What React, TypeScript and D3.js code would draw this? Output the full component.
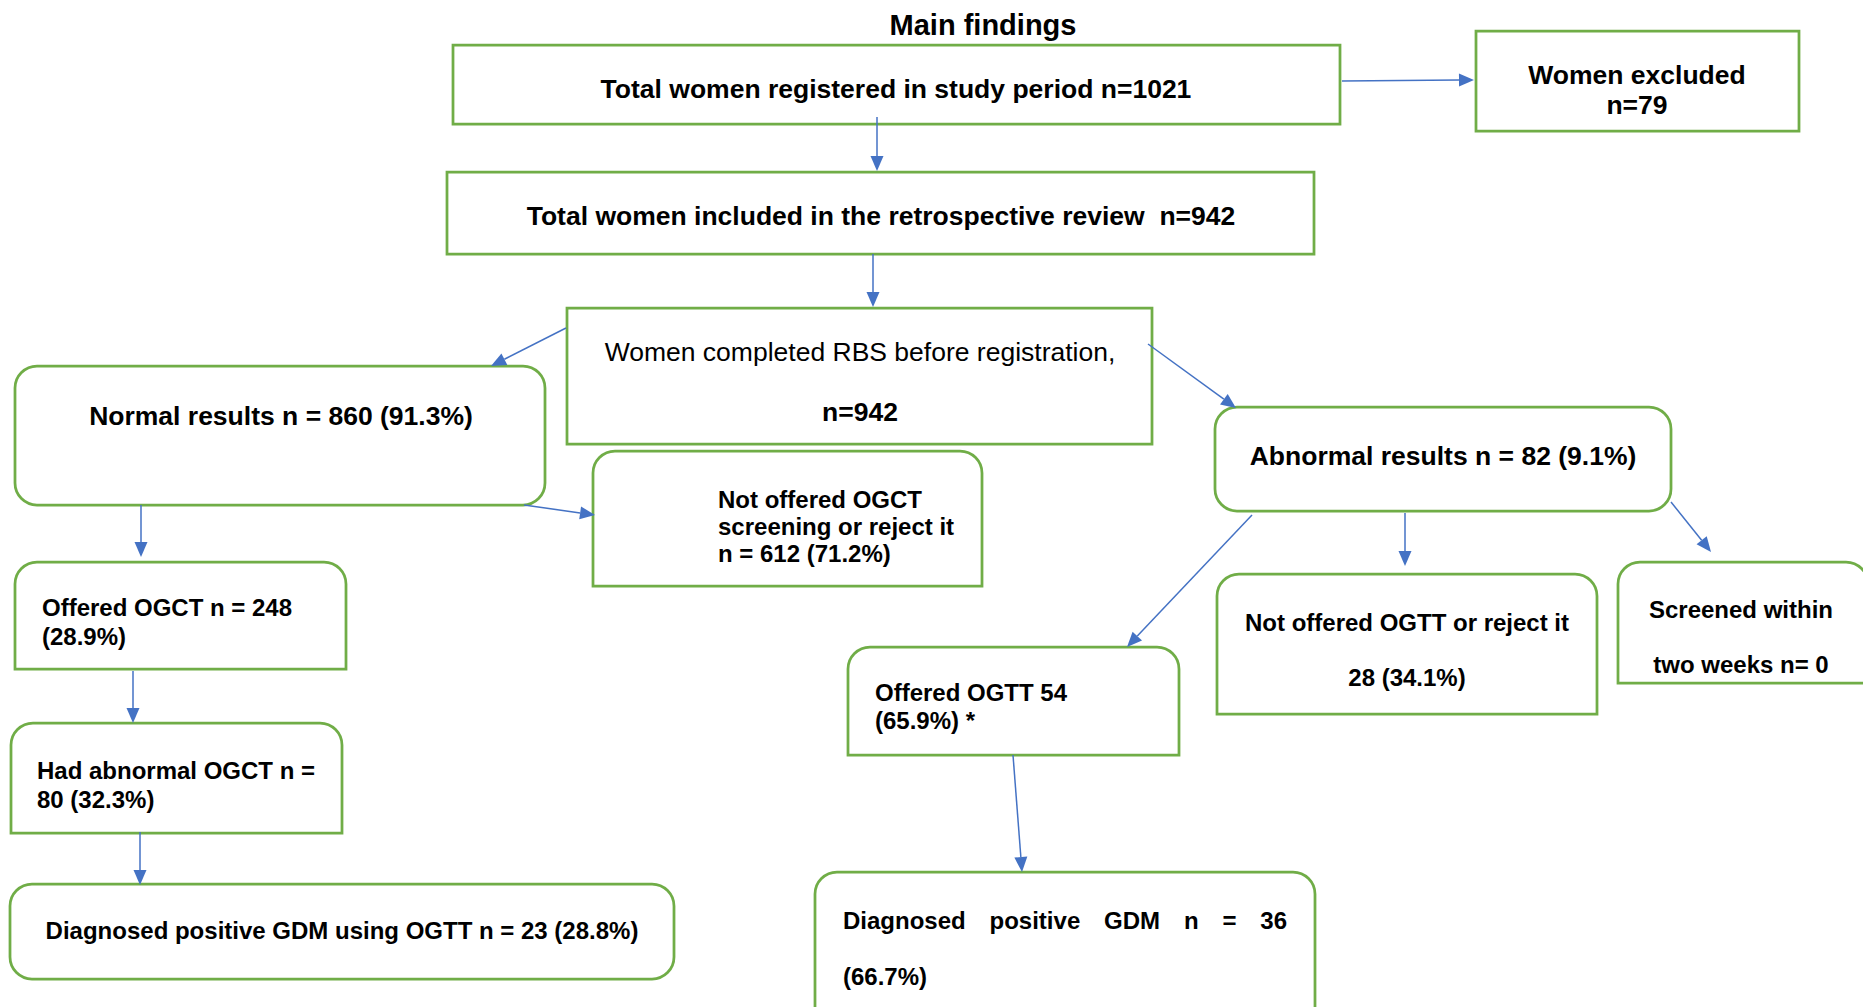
import React, { useEffect, useRef } from 'react';
import * as d3 from 'd3';

const W = 1863;
const H = 1007;
const GREEN = '#70AD47';
const BLUE = '#4472C4';
const FONT = "'Liberation Sans', Arial, Helvetica, sans-serif";

// ---- data ----
const chartTitle = 'Main findings';

const nodeIds = [
  'total', 'excluded', 'included', 'rbs', 'normal', 'notOgct', 'abnormal',
  'offeredOgct', 'hadAbnOgct', 'gdmOgct', 'offeredOgtt', 'notOgtt', 'screened', 'gdmPositive',
];

const nodeLines = [
  ['Total women registered in study period n=1021'],
  ['Women excluded', 'n=79'],
  ['Total women included in the retrospective review  n=942'],
  ['Women completed RBS before registration,', 'n=942'],
  ['Normal results n = 860 (91.3%)'],
  ['Not offered OGCT', 'screening or reject it', 'n = 612 (71.2%)'],
  ['Abnormal results n = 82 (9.1%)'],
  ['Offered OGCT n = 248', '(28.9%)'],
  ['Had abnormal OGCT n =', '80 (32.3%)'],
  ['Diagnosed positive GDM using OGTT n = 23 (28.8%)'],
  ['Offered OGTT 54', '(65.9%) *'],
  ['Not offered OGTT or reject it', '28 (34.1%)'],
  ['Screened within', 'two weeks n= 0'],
  ['Diagnosed positive GDM n = 36', '(66.7%)'],
];

const links = [
  ['total', 'excluded'],
  ['total', 'included'],
  ['included', 'rbs'],
  ['rbs', 'normal'],
  ['rbs', 'abnormal'],
  ['normal', 'notOgct'],
  ['normal', 'offeredOgct'],
  ['offeredOgct', 'hadAbnOgct'],
  ['hadAbnOgct', 'gdmOgct'],
  ['abnormal', 'offeredOgtt'],
  ['abnormal', 'notOgtt'],
  ['abnormal', 'screened'],
  ['offeredOgtt', 'gdmPositive'],
];

// ---- layout (positions / sizes / styles) ----
// shape: rect | round (all corners) | top (top corners only)
const boxLayout = {
  total: { x: 453, y: 45, w: 887, h: 79, shape: 'rect' },
  excluded: { x: 1476, y: 31, w: 323, h: 100, shape: 'rect' },
  included: { x: 447, y: 172, w: 867, h: 82, shape: 'rect' },
  rbs: { x: 567, y: 308, w: 585, h: 136, shape: 'rect' },
  normal: { x: 15, y: 366, w: 530, h: 139, shape: 'round' },
  notOgct: { x: 593, y: 451, w: 389, h: 135, shape: 'top' },
  abnormal: { x: 1215, y: 407, w: 456, h: 104, shape: 'round' },
  offeredOgct: { x: 15, y: 562, w: 331, h: 107, shape: 'top' },
  hadAbnOgct: { x: 11, y: 723, w: 331, h: 110, shape: 'top' },
  gdmOgct: { x: 10, y: 884, w: 664, h: 95, shape: 'round' },
  offeredOgtt: { x: 848, y: 647, w: 331, h: 108, shape: 'top' },
  notOgtt: { x: 1217, y: 574, w: 380, h: 140, shape: 'top' },
  screened: { x: 1618, y: 562, w: 250, h: 121, shape: 'top' },
  gdmPositive: { x: 815, y: 872, w: 500, h: 160, shape: 'top' },
};

// anchor, x, baselines, font size, bold per line, optional justify span
const textLayout = {
  total: { anchor: 'middle', x: 896, ys: [98], size: 26.5 },
  excluded: { anchor: 'middle', x: 1637, ys: [83.5, 114], size: 26.5 },
  included: { anchor: 'middle', x: 881, ys: [225], size: 26.5 },
  rbs: { anchor: 'middle', x: 860, ys: [361, 421], size: 26.5, bold: [false, true] },
  normal: { anchor: 'middle', x: 281, ys: [425], size: 26.5 },
  notOgct: { anchor: 'start', x: 718, ys: [508, 535, 562], size: 24 },
  abnormal: { anchor: 'middle', x: 1443, ys: [465], size: 26.5 },
  offeredOgct: { anchor: 'start', x: 42, ys: [616, 645], size: 24 },
  hadAbnOgct: { anchor: 'start', x: 37, ys: [779, 808], size: 24 },
  gdmOgct: { anchor: 'middle', x: 342, ys: [939], size: 24 },
  offeredOgtt: { anchor: 'start', x: 875, ys: [701, 729], size: 24 },
  notOgtt: { anchor: 'middle', x: 1407, ys: [631, 686], size: 24 },
  screened: { anchor: 'middle', x: 1741, ys: [618, 673], size: 24 },
  gdmPositive: { anchor: 'start', x: 843, ys: [929, 985], size: 24, justify: [1287, null] },
};

// arrow start / end points, same order as links
const arrowLayout = [
  [[1342, 81], [1474, 80]],
  [[877, 117], [877, 171]],
  [[873, 254], [873, 307]],
  [[566, 328], [491, 366]],
  [[1148, 344], [1236, 408]],
  [[524, 505], [595, 515]],
  [[141, 505], [141, 557]],
  [[133, 671], [133, 723]],
  [[140, 832], [140, 885]],
  [[1252, 515], [1127, 647]],
  [[1405, 513], [1405, 566]],
  [[1671, 502], [1711, 552]],
  [[1013, 755], [1022, 872]],
];

const HEAD_L = 15;
const HEAD_W = 13;

function boxPath(b) {
  const { x, y, w, h, shape } = b;
  const p = d3.path();
  if (shape === 'rect') {
    p.rect(x, y, w, h);
    return p.toString();
  }
  const r = 22;
  const rb = shape === 'round' ? r : 0;
  p.moveTo(x + r, y);
  p.lineTo(x + w - r, y);
  p.arcTo(x + w, y, x + w, y + r, r);
  p.lineTo(x + w, y + h - rb);
  if (rb) p.arcTo(x + w, y + h, x + w - rb, y + h, rb);
  p.lineTo(x + rb, y + h);
  if (rb) p.arcTo(x, y + h, x, y + h - rb, rb);
  p.lineTo(x, y + r);
  p.arcTo(x, y, x + r, y, r);
  p.closePath();
  return p.toString();
}

export default function App() {
  const ref = useRef(null);

  useEffect(() => {
    const svg = d3.select(ref.current);
    svg.selectAll('*').remove();

    svg.append('rect').attr('width', W).attr('height', H).attr('fill', '#fff');

    svg
      .append('text')
      .attr('x', 983)
      .attr('y', 35)
      .attr('text-anchor', 'middle')
      .attr('font-family', FONT)
      .attr('font-weight', 'bold')
      .attr('font-size', 29)
      .attr('fill', '#000')
      .text(chartTitle);

    // 绘制方框
    nodeIds.forEach((id, i) => {
      const b = boxLayout[id];
      const g = svg.append('g').attr('class', `node ${id}`);
      g.append('path')
        .attr('d', boxPath(b))
        .attr('fill', '#fff')
        .attr('stroke', GREEN)
        .attr('stroke-width', 2.75);

      const t = textLayout[id];
      nodeLines[i].forEach((line, j) => {
        const bold = t.bold ? t.bold[j] : true;
        const txt = g
          .append('text')
          .attr('x', t.x)
          .attr('y', t.ys[j])
          .attr('text-anchor', t.anchor)
          .attr('font-family', FONT)
          .attr('font-weight', bold ? 'bold' : 'normal')
          .attr('font-size', t.size)
          .attr('fill', '#000')
          .style('white-space', 'pre')
          .text(line);
        // 两端对齐
        if (t.justify && t.justify[j]) {
          const natural = txt.node().getComputedTextLength();
          const gaps = line.split(' ').length - 1;
          if (gaps > 0) {
            const ws = (t.justify[j] - t.x - natural) / gaps;
            txt.attr('word-spacing', ws);
          }
        }
      });
    });

    // 绘制箭头
    links.forEach((lk, i) => {
      const [[x1, y1], [x2, y2]] = arrowLayout[i];
      const dx = x2 - x1;
      const dy = y2 - y1;
      const len = Math.hypot(dx, dy);
      const ux = dx / len;
      const uy = dy / len;
      const bx = x2 - ux * HEAD_L;
      const by = y2 - uy * HEAD_L;
      const g = svg.append('g').attr('class', `link ${lk[0]}-${lk[1]}`);
      g.append('path')
        .attr('d', d3.line()([[x1, y1], [bx, by]]))
        .attr('stroke', BLUE)
        .attr('stroke-width', 1.5)
        .attr('fill', 'none');
      g.append('path')
        .attr(
          'd',
          d3.line()([
            [x2, y2],
            [bx - (uy * HEAD_W) / 2, by + (ux * HEAD_W) / 2],
            [bx + (uy * HEAD_W) / 2, by - (ux * HEAD_W) / 2],
          ]) + 'Z',
        )
        .attr('fill', BLUE)
        .attr('stroke', 'none');
    });
  }, []);

  return (
    <svg
      ref={ref}
      width={W}
      height={H}
      viewBox={`0 0 ${W} ${H}`}
      style={{ position: 'absolute', left: 0, top: 0, display: 'block' }}
    />
  );
}
